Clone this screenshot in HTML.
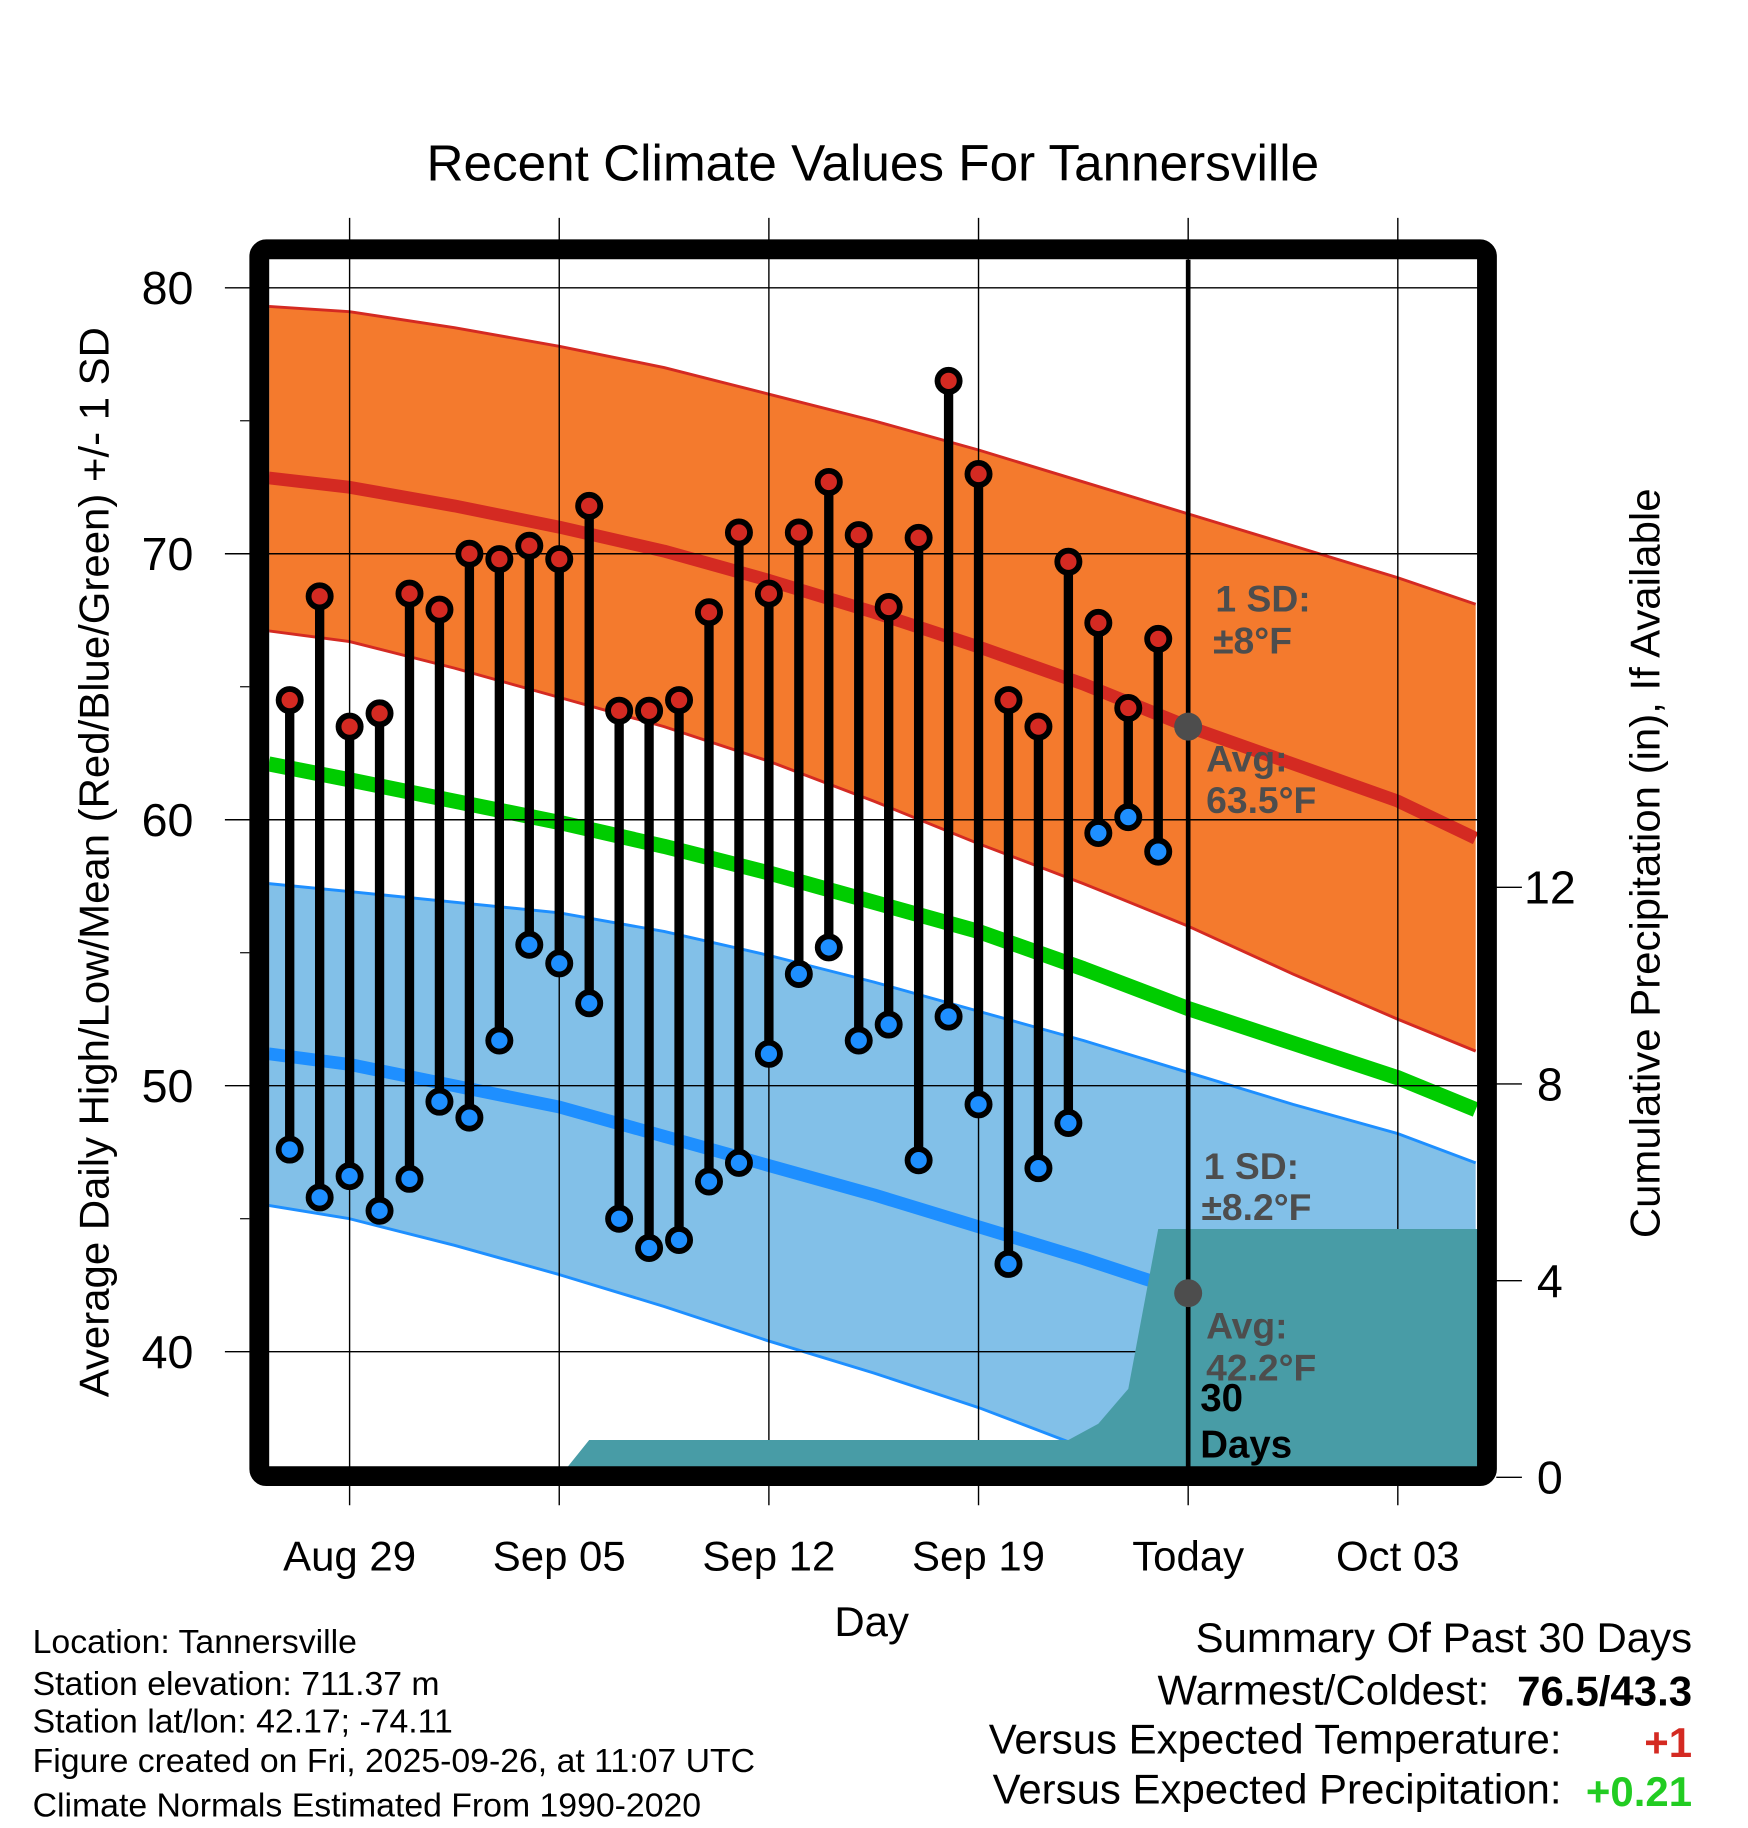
<!DOCTYPE html>
<html><head><meta charset="utf-8"><style>
html,body{margin:0;padding:0;background:#fff;}
svg{display:block;font-family:"Liberation Sans",sans-serif;}
</style></head><body>
<svg id="chart" width="1748" height="1828" viewBox="0 0 1500 1569" preserveAspectRatio="none" xmlns="http://www.w3.org/2000/svg">
<defs><clipPath id="plotclip"><rect x="231" y="223" width="1037" height="1037"/></clipPath></defs>
<g id="layers"></g>
</svg>
<script>
// ---- data ----
const obsDays = [-2,-1,0,1,2,3,4,5,6,7,8,9,10,11,12,13,14,15,16,17,18,19,20,21,22,23,24,25,26,27];
const highs = [64.5,68.4,63.5,64.0,68.5,67.9,70.0,69.8,70.3,69.8,71.8,64.1,64.1,64.5,67.8,70.8,68.5,70.8,72.7,70.7,68.0,70.6,76.5,73.0,64.5,63.5,69.7,67.4,64.2,66.8];
const lows = [47.6,45.8,46.6,45.3,46.5,49.4,48.8,51.7,55.3,54.6,53.1,45.0,43.9,44.2,46.4,47.1,51.2,54.2,55.2,51.7,52.3,47.2,52.6,49.3,43.3,46.9,48.6,59.5,60.1,58.8];
const normDays = [-2.7,0,3.5,7,10.5,14,17.5,21,24.5,28,31.5,35,37.6];
const highMean = [72.85,72.5,71.8,71.0,70.1,69.0,67.8,66.5,65.1,63.5,62.1,60.7,59.3];
const highUpper = [79.3,79.1,78.5,77.8,77.0,76.0,75.0,73.9,72.7,71.5,70.3,69.1,68.1];
const highLower = [67.1,66.7,65.7,64.6,63.5,62.2,60.7,59.1,57.6,56.0,54.2,52.5,51.3];
const meanNorm = [62.1,61.5,60.7,59.9,59.0,58.0,56.9,55.8,54.4,52.9,51.6,50.3,49.1];
const lowMean = [51.2,50.8,50.0,49.2,48.1,47.0,45.9,44.7,43.5,42.2,40.9,39.6,38.5];
const lowUpper = [57.6,57.3,56.9,56.5,55.8,54.9,53.9,52.8,51.7,50.5,49.3,48.2,47.1];
const lowLower = [45.5,45.0,44.0,42.9,41.7,40.4,39.2,37.9,36.4,34.7,33.1,31.5,30.0];
const precipDays = [7,8,24,25,26,27,38.5];
const precipVals = [0,0.76,0.76,1.09,1.8,5.05,5.05];
const xTickDays = [0,7,14,21,28,35];
const xTickLabels = ["Aug 29","Sep 05","Sep 12","Sep 19","Today","Oct 03"];
const yTicks = [40,50,60,70,80];
const yMinor = [45,55,65,75];
const pTicks = [0,4,8,12];

// ---- axes ----
const X = d => 300 + d*25.7;
const Y = t => 247 + (80 - t)*22.83;
const P = p => 1268 - p*42.2;
const NS = "http://www.w3.org/2000/svg";
const root = document.getElementById('layers');
function el(tag, attrs, parent){const e=document.createElementNS(NS,tag);for(const k in attrs)e.setAttribute(k,attrs[k]);(parent||root).appendChild(e);return e;}
function txt(s, attrs, parent){const e=el('text',attrs,parent);e.textContent=s;return e;}

const plot = el('g',{'clip-path':'url(#plotclip)'});



function band(up, lo, fill, name){
  let pts = normDays.map((d,i)=>X(d)+','+Y(up[i]));
  pts = pts.concat(normDays.slice().reverse().map((d,i)=>X(d)+','+Y(lo[lo.length-1-i])));
  const p = el('polygon',{points:pts.join(' '),fill:fill},plot);
  
  
}
function line(vals, color, w, name){
  const p = el('polyline',{points:normDays.map((d,i)=>X(d)+','+Y(vals[i])).join(' '),fill:'none',stroke:color,'stroke-width':w,'stroke-linejoin':'round'},plot);
  
  
}
band(highUpper, highLower, '#f47a2d', 'high-sd-band');
line(highUpper,'#d42a22',2.5,'high-upper-line');
line(highLower,'#d42a22',2.5,'high-lower-line');
band(lowUpper, lowLower, '#82c0e8', 'low-sd-band');
line(lowUpper,'#1e8fff',2.5,'low-upper-line');
line(lowLower,'#1e8fff',2.5,'low-lower-line');
line(highMean,'#d42a22',11,'high-normal-line');
line(meanNorm,'#00cc00',13,'mean-normal-line');
line(lowMean,'#1e8fff',11,'low-normal-line');

// gridlines
xTickDays.forEach(d=>{
  const g = el('line',{x1:X(d),x2:X(d),y1:187,y2:1292,stroke:'#000','stroke-width':1.2});
  
  
});
yTicks.forEach(t=>{
  const g = el('line',{x1:193,x2:1268,y1:Y(t),y2:Y(t),stroke:'#000','stroke-width':1.2});
  
  
});
yMinor.forEach(t=>{
  const g = el('line',{x1:206,x2:214,y1:Y(t),y2:Y(t),stroke:'#000','stroke-width':1});
  
  
});

// precip
const pplot = el('g',{'clip-path':'url(#plotclip)'});
let pp = precipDays.map((d,i)=>X(d)+','+P(precipVals[i]));
pp.push(X(precipDays[precipDays.length-1])+','+P(0));
pp.push(X(precipDays[0])+','+P(0));
const prec = el('polygon',{points:pp.join(' '),fill:'#489ca6'},pplot);



// annotations
const ann = [["1 SD:",1043,525],["±8°F",1041,561],["Avg:",1035,662],["63.5°F",1035,698],["1 SD:",1033,1012],["±8.2°F",1031,1047],["Avg:",1035,1149],["42.2°F",1035,1185]];
ann.forEach(a=>{
  const t = txt(a[0],{x:a[1],y:a[2],fill:'#4d4d4d','font-size':32,'font-weight':'bold'});
  
  
});
const d30 = txt('30',{x:1030,y:1211,'font-size':33,'font-weight':'bold'});


const d30b = txt('Days',{x:1030,y:1251,'font-size':33,'font-weight':'bold'});



// today line and dots
const today = el('line',{x1:X(28),x2:X(28),y1:223,y2:1262,stroke:'#000','stroke-width':4});


[63.5,42.2].forEach(v=>{
  const c = el('circle',{cx:X(28),cy:Y(v),r:12,fill:'#4d4d4d'});
  
  
});

// observations
obsDays.forEach((d,i)=>{
  const l = el('line',{x1:X(d),x2:X(d),y1:Y(highs[i]),y2:Y(lows[i]),stroke:'#000','stroke-width':8});
  
  
  const h = el('circle',{cx:X(d),cy:Y(highs[i]),r:9.5,fill:'#d42a22',stroke:'#000','stroke-width':5});
  
  
  const lo = el('circle',{cx:X(d),cy:Y(lows[i]),r:9.5,fill:'#1e8fff',stroke:'#000','stroke-width':5});
  
  
});

// frame
const fr = el('rect',{x:222.5,y:214,width:1053.5,height:1053,rx:6,fill:'none',stroke:'#000','stroke-width':17});



// tick labels
yTicks.forEach(t=>{
  const e = txt(String(t),{x:166,y:Y(t)+14,'text-anchor':'end','font-size':40});
  
  
});
pTicks.forEach(p=>{
  const k = el('line',{x1:1284,x2:1306,y1:P(p),y2:P(p),stroke:'#000','stroke-width':1.2});
  
  
  const e = txt(String(p),{x:1330,y:P(p)+14,'text-anchor':'middle','font-size':40});
  
  
});
xTickDays.forEach((d,i)=>{
  const e = txt(xTickLabels[i],{x:X(d),y:1348,'text-anchor':'middle','font-size':36});
  
  
});
</script>
<script>
(function(){
const NS="http://www.w3.org/2000/svg";const svg=document.getElementById('chart');
function t(s,a,name){const e=document.createElementNS(NS,'text');for(const k in a)e.setAttribute(k,a[k]);e.textContent=s;svg.appendChild(e);return e;}
t('Recent Climate Values For Tannersville',{x:749,y:155,'text-anchor':'middle','font-size':44},'chart-title');
t('Day',{x:748,y:1404,'text-anchor':'middle','font-size':36},'x-axis-title');
t('Average Daily High/Low/Mean (Red/Blue/Green) +/- 1 SD',{x:0,y:0,'text-anchor':'middle','font-size':36,transform:'translate(93,740) rotate(-90)'},'y-axis-title');
t('Cumulative Precipitation (in), If Available',{x:0,y:0,'text-anchor':'middle','font-size':36,transform:'translate(1424,741) rotate(-90)'},'precip-axis-title');
const info=[['Location: Tannersville',1419],['Station elevation: 711.37 m',1455],['Station lat/lon: 42.17; -74.11',1487],['Figure created on Fri, 2025-09-26, at 11:07 UTC',1521],['Climate Normals Estimated From 1990-2020',1559]];
info.forEach(r=>t(r[0],{x:28,y:r[1],'font-size':29},'station-info'));
t('Summary Of Past 30 Days',{x:1452,y:1418,'text-anchor':'end','font-size':36},'summary-title');
t('Warmest/Coldest:',{x:1278,y:1463,'text-anchor':'end','font-size':36},'summary-label');
t('76.5/43.3',{x:1452,y:1464,'text-anchor':'end','font-size':36,'font-weight':'bold'},'warmest-coldest-value');
t('Versus Expected Temperature:',{x:1340,y:1505,'text-anchor':'end','font-size':36},'summary-label');
t('+1',{x:1452,y:1508,'text-anchor':'end','font-size':36,'font-weight':'bold',fill:'#d42a22'},'temp-anomaly-value');
t('Versus Expected Precipitation:',{x:1340,y:1548,'text-anchor':'end','font-size':36},'summary-label');
t('+0.21',{x:1452,y:1550,'text-anchor':'end','font-size':36,'font-weight':'bold',fill:'#22cc22'},'precip-anomaly-value');
})();
</script>
</body></html>
